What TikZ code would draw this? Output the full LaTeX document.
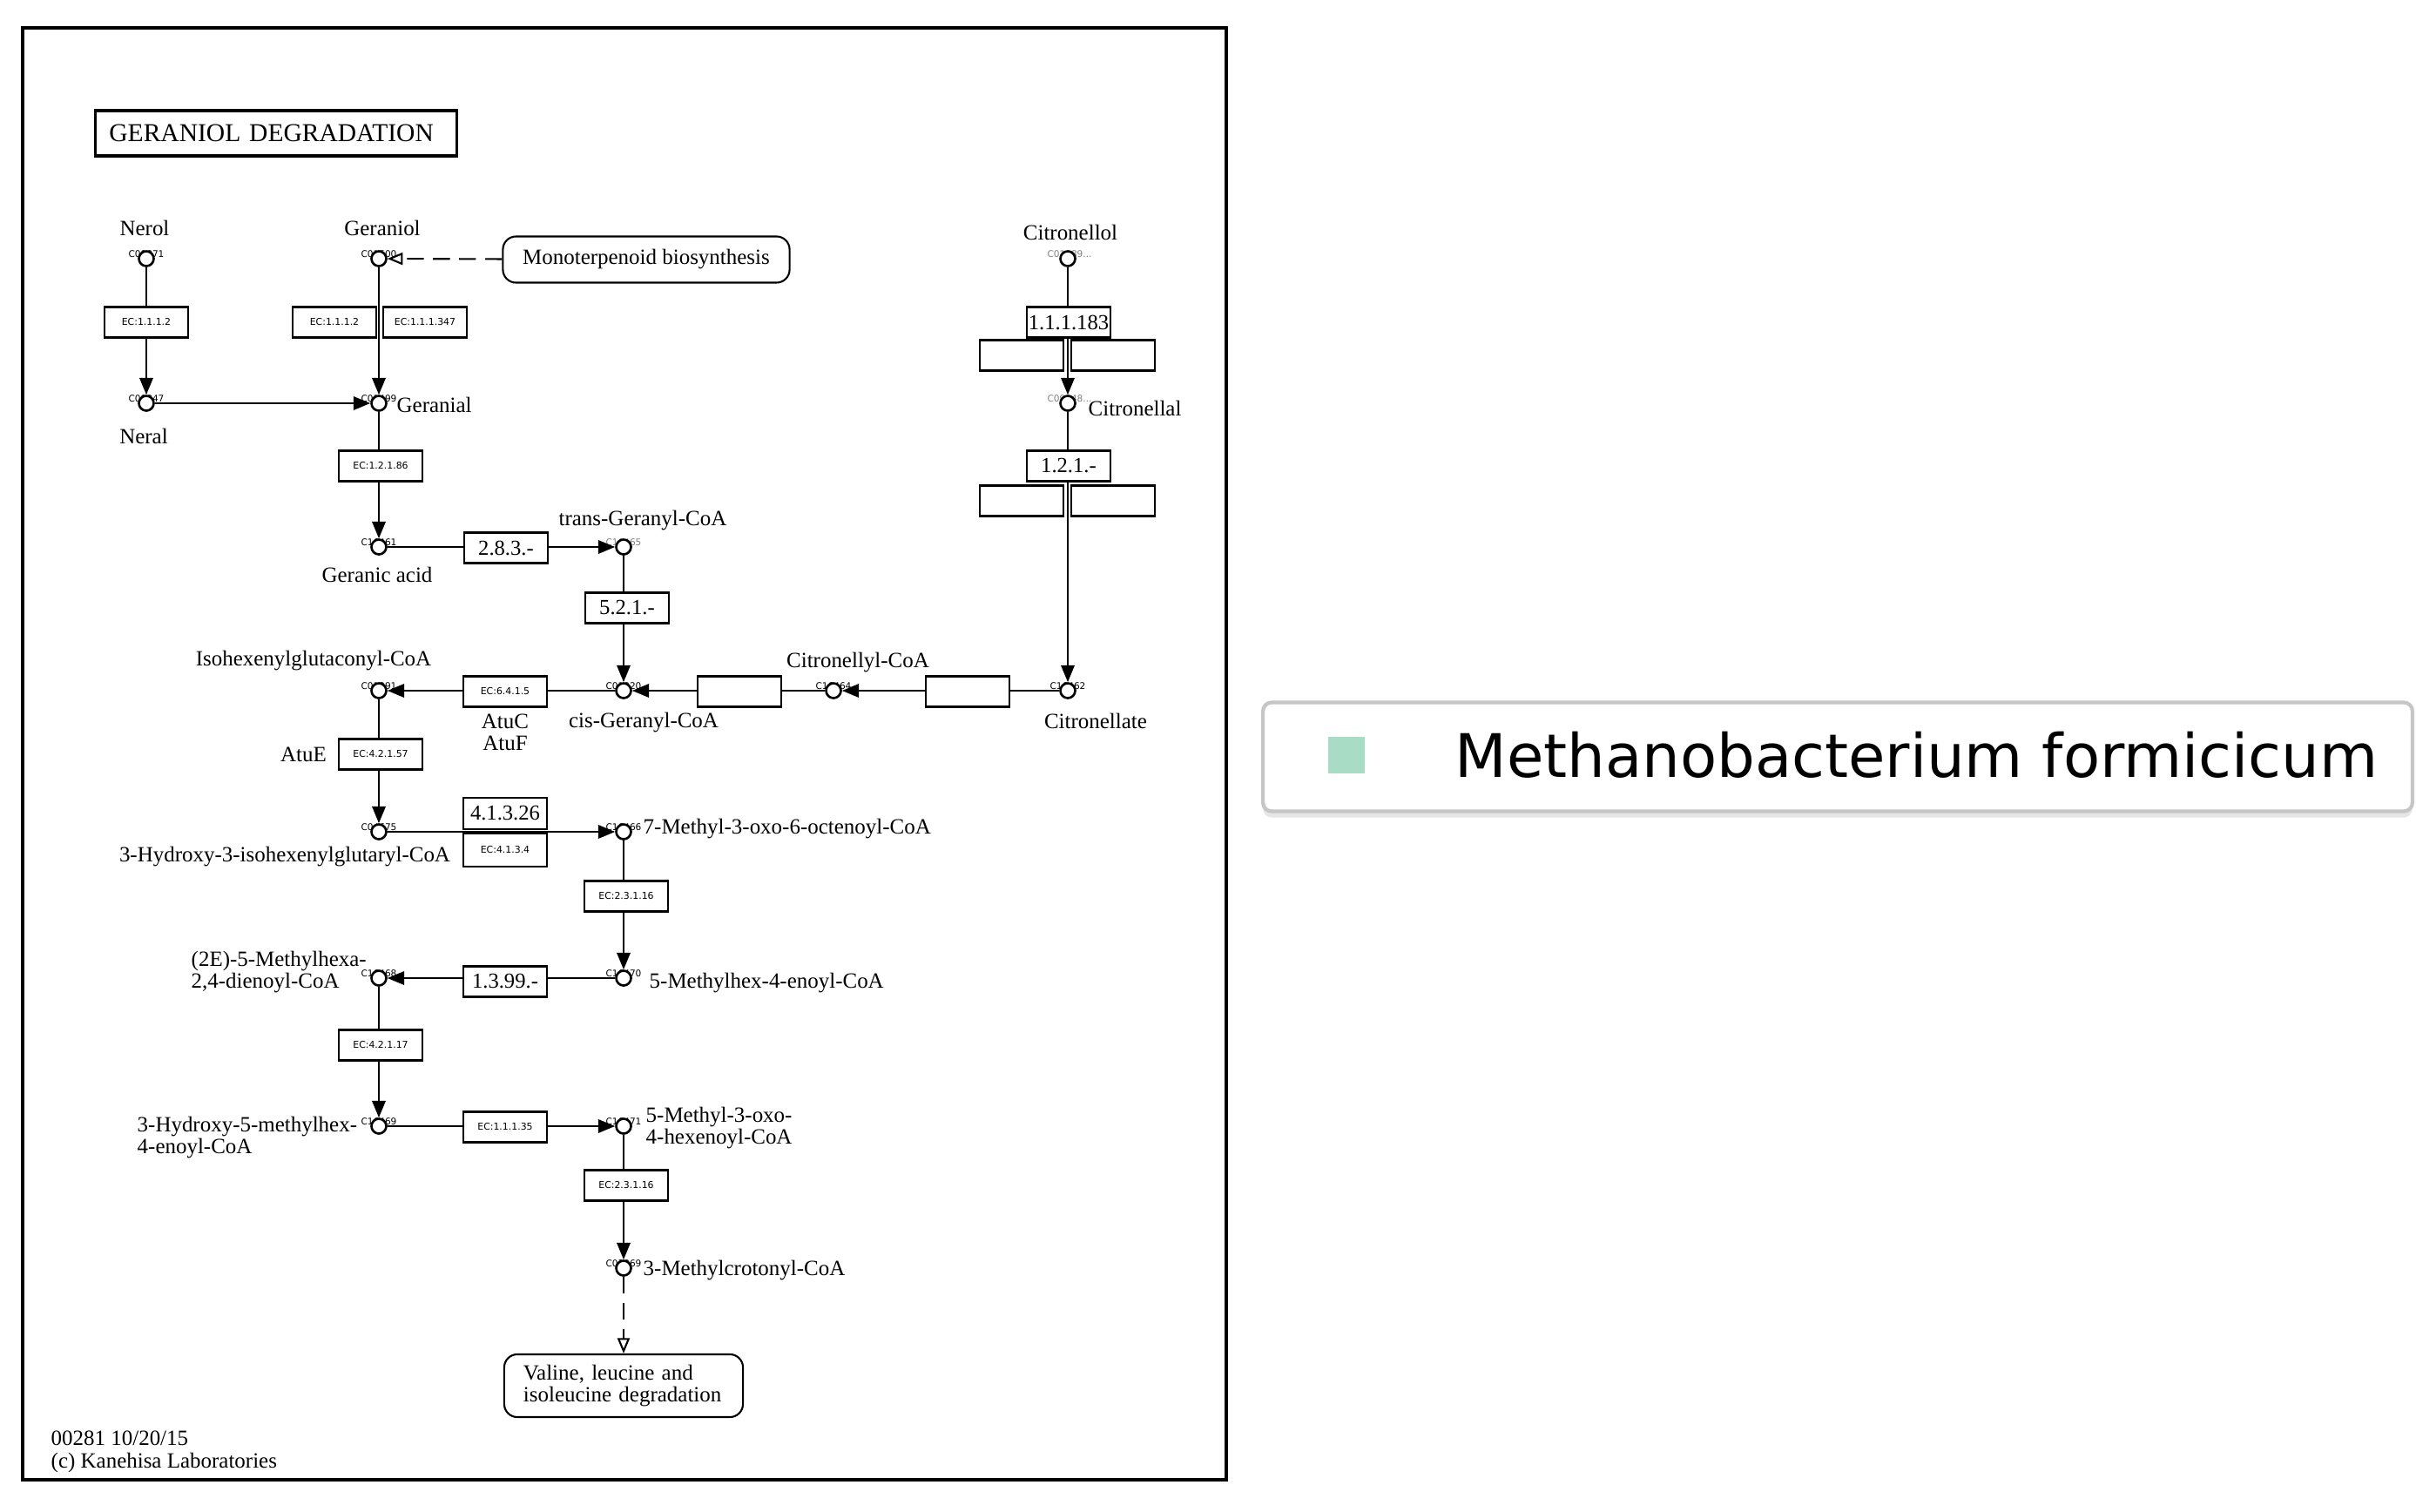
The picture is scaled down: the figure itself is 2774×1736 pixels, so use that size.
\documentclass[tikz,border=0pt]{standalone}
\usepackage{fontspec}
\setmainfont{Liberation Serif}
\newfontfamily\ecfont{DejaVu Sans}
\usetikzlibrary{arrows.meta,positioning,shapes,shadows}

\definecolor{legendgreen}{RGB}{168,220,197}

\tikzset{
  cpd/.style={circle,draw,fill=white,line width=0.75pt,minimum size=0.17cm,inner sep=0pt},
  cid/.style={inner sep=0pt,font=\ecfont\fontsize{3}{3}\selectfont},
  ecbox/.style={rectangle,draw,fill=white,line width=0.8pt,minimum width=0.96cm,
    minimum height=0.35cm,inner sep=0pt,font=\ecfont\fontsize{3.1}{3.1}\selectfont},
  numbox/.style={ecbox,line width=0.6pt,font=\fontsize{7}{7}\selectfont},
  lbl/.style={inner sep=0pt,align=left,font=\fontsize{7.1}{7.2}\selectfont},
  mapbox/.style={rectangle,rounded corners=0.15cm,draw,fill=white,line width=0.6pt,
    align=left,font=\fontsize{7.1}{7.2}\selectfont},
  rxn/.style={->,line width=0.6pt},
  link/.style={-{Triangle[open,length=5pt,width=4pt]},line width=0.6pt,
    dash pattern=on 5.5pt off 3pt}
}

\begin{document}
\begin{tikzpicture}[x=0.01cm,y=-0.01cm,>={Triangle[length=5.5pt,width=4.4pt]}]
  \useasboundingbox (0,0) rectangle (2774,1736);
  \draw[line width=0.9pt] (26,32) rectangle (1408,1699);

  \node[draw,line width=1pt,minimum height=0.52cm,text width=3.83cm,inner xsep=0.16cm,
    align=left,font=\fontsize{8.4}{8.4}\selectfont] (title) at (317,153) {GERANIOL DEGRADATION};

  % compounds (id text first, circle drawn over it)
  \node[cid] at (168,292) {C09871};        \node[cpd] (nerol) at (168,297) {};
  \node[cid] at (435,292) {C01500};        \node[cpd] (geraniol) at (435,297) {};
  \node[cid] at (168,458) {C09847};        \node[cpd] (neral) at (168,463) {};
  \node[cid] at (435,458) {C01499};        \node[cpd] (geranial) at (435,463) {};
  \node[cid] at (435,623) {C16461};        \node[cpd] (geranicacid) at (435,628) {};
  \node[cid,gray] at (716,623) {C16465};   \node[cpd] (transgcoa) at (716,628) {};
  \node[cid] at (716,788) {C01920};        \node[cpd] (cisgcoa) at (716,793) {};
  \node[cid] at (957,788) {C16464};        \node[cpd] (citrcoa) at (957,793) {};
  \node[cid] at (1226,788) {C16462};       \node[cpd] (citronellate) at (1226,793) {};
  \node[cid,gray] at (1228,292) {C01489...}; \node[cpd] (citronellol) at (1226,297) {};
  \node[cid,gray] at (1228,458) {C09848...}; \node[cpd] (citronellal) at (1226,463) {};
  \node[cid] at (435,788) {C01291};        \node[cpd] (isohex) at (435,793) {};
  \node[cid] at (435,950) {C04675};        \node[cpd] (hig) at (435,955) {};
  \node[cid] at (716,950) {C16466};        \node[cpd] (mooc) at (716,955) {};
  \node[cid] at (716,1118) {C16470};       \node[cpd] (mhe) at (716,1123) {};
  \node[cid] at (435,1118) {C16468};       \node[cpd] (mhd) at (435,1123) {};
  \node[cid] at (435,1288) {C16469};       \node[cpd] (hmh) at (435,1293) {};
  \node[cid] at (716,1288) {C16471};       \node[cpd] (mohx) at (716,1293) {};
  \node[cid] at (716,1451) {C03069};       \node[cpd] (mcc) at (716,1456) {};

  % compound names
  \node[lbl] (lnerol) at (166,262) {Nerol};
  \node[lbl] (lgeraniol) at (439,262) {Geraniol};
  \node[lbl] (lneral) at (165,501) {Neral};
  \node[lbl,anchor=west] (lgeranial) at (455,465) {Geranial};
  \node[lbl] (lgeranic) at (433,660) {Geranic acid};
  \node[lbl] (ltrans) at (738,598) {trans-Geranyl-CoA};
  \node[lbl] (lcis) at (739,830) {cis-Geranyl-CoA};
  \node[lbl] (lcitrcoa) at (985,761) {Citronellyl-CoA};
  \node[lbl] (lcitrate) at (1258,828) {Citronellate};
  \node[lbl] (lcitrol) at (1229,267) {Citronellol};
  \node[lbl,anchor=west] (lcitral) at (1249,469) {Citronellal};
  \node[lbl] (lisohex) at (360,759) {Isohexenylglutaconyl-CoA};
  \node[lbl] (lhig) at (327,984) {3-Hydroxy-3-isohexenylglutaryl-CoA};
  \node[lbl,anchor=west] (lmooc) at (738,952) {7-Methyl-3-oxo-6-octenoyl-CoA};
  \node[lbl,anchor=west] (lmhe) at (745,1129) {5-Methylhex-4-enoyl-CoA};
  \node[lbl,anchor=west] (lmhd) at (219,1116) {(2E)-5-Methylhexa-\\2,4-dienoyl-CoA};
  \node[lbl,anchor=west] (lhmh) at (157,1306) {3-Hydroxy-5-methylhex-\\4-enoyl-CoA};
  \node[lbl,anchor=west] (lmohx) at (741,1295) {5-Methyl-3-oxo-\\4-hexenoyl-CoA};
  \node[lbl,anchor=west] (lmcc) at (738,1459) {3-Methylcrotonyl-CoA};

  % maps
  \node[mapbox,minimum width=3.29cm,minimum height=0.53cm] (mono) at (742,298) {Monoterpenoid biosynthesis};
  \node[mapbox,minimum width=2.74cm,minimum height=0.72cm,text width=2.3cm,inner xsep=0.22cm] (valine) at (716,1591)
    {Valine, leucine and\\isoleucine degradation};

  % reactions
  \draw[rxn] (nerol) -- (neral);
  \draw[rxn] (geraniol) -- (geranial);
  \draw[rxn] (neral) -- (geranial);
  \draw[rxn] (geranial) -- (geranicacid);
  \draw[rxn] (geranicacid) -- (transgcoa);
  \draw[rxn] (transgcoa) -- (cisgcoa);
  \draw[rxn] (citronellol) -- (citronellal);
  \draw[rxn] (citronellal) -- (citronellate);
  \draw[rxn] (citronellate) -- (citrcoa);
  \draw[rxn] (citrcoa) -- (cisgcoa);
  \draw[rxn] (cisgcoa) -- (isohex);
  \draw[rxn] (isohex) -- (hig);
  \draw[rxn] (hig) -- (mooc);
  \draw[rxn] (mooc) -- (mhe);
  \draw[rxn] (mhe) -- (mhd);
  \draw[rxn] (mhd) -- (hmh);
  \draw[rxn] (hmh) -- (mohx);
  \draw[rxn] (mohx) -- (mcc);
  \draw[link] (mono) -- (geraniol);
  \draw[link] (mcc) -- (valine);

  % enzymes
  \node[ecbox] (ec1) at (168,370) {EC:1.1.1.2};
  \node[ecbox] (ec2) at (384,370) {EC:1.1.1.2};
  \node[ecbox] (ec3) at (488,370) {EC:1.1.1.347};
  \node[ecbox] (ec4) at (437,535) {EC:1.2.1.86};
  \node[numbox] (n1) at (581,629) {2.8.3.-};
  \node[numbox] (n2) at (720,698) {5.2.1.-};
  \node[ecbox] (e1) at (849,794) {};
  \node[ecbox] (e2) at (1111,794) {};
  \node[ecbox] (ec5) at (580,794) {EC:6.4.1.5};
  \node[lbl,align=center,below=0.06cm of ec5] (atucf) {AtuC\\AtuF};
  \node[ecbox] (ec6) at (437,866) {EC:4.2.1.57};
  \node[lbl,left=0.12cm of ec6] (atue) {AtuE};
  \node[numbox,minimum height=0.36cm] (n3) at (580,934) {4.1.3.26};
  \node[ecbox,minimum height=0.38cm] (ec7) at (580,976) {EC:4.1.3.4};
  \node[ecbox] (ec8) at (719,1029) {EC:2.3.1.16};
  \node[numbox] (n4) at (580,1127) {1.3.99.-};
  \node[ecbox] (ec9) at (437,1200) {EC:4.2.1.17};
  \node[ecbox] (ec10) at (580,1294) {EC:1.1.1.35};
  \node[ecbox] (ec11) at (719,1361) {EC:2.3.1.16};
  \node[numbox] (n5) at (1227,370) {1.1.1.183};
  \node[ecbox] (e3) at (1173,408) {};
  \node[ecbox] (e4) at (1278,408) {};
  \node[numbox] (n6) at (1227,535) {1.2.1.-};
  \node[ecbox] (e5) at (1173,575) {};
  \node[ecbox] (e6) at (1278,575) {};

  \node[lbl,anchor=west] (footer) at (58,1667) {00281 10/20/15\\(c) Kanehisa Laboratories};

  % legend
  \node[rectangle,rounded corners=0.1cm,draw=gray!45,line width=1.2pt,fill=white,
    drop shadow={shadow xshift=0pt,shadow yshift=-2pt,opacity=0.2},
    minimum width=13.19cm,minimum height=1.25cm] (legend) at (2110,869) {};
  \node[rectangle,fill=legendgreen,minimum size=0.42cm,inner sep=0pt] (orgkey) at (1546,867) {};
  \node[anchor=west,inner sep=0pt,font=\ecfont\fontsize{19.6}{20}\selectfont] (orgname) at (1670,867)
    {Methanobacterium formicicum};
\end{tikzpicture}
\end{document}
